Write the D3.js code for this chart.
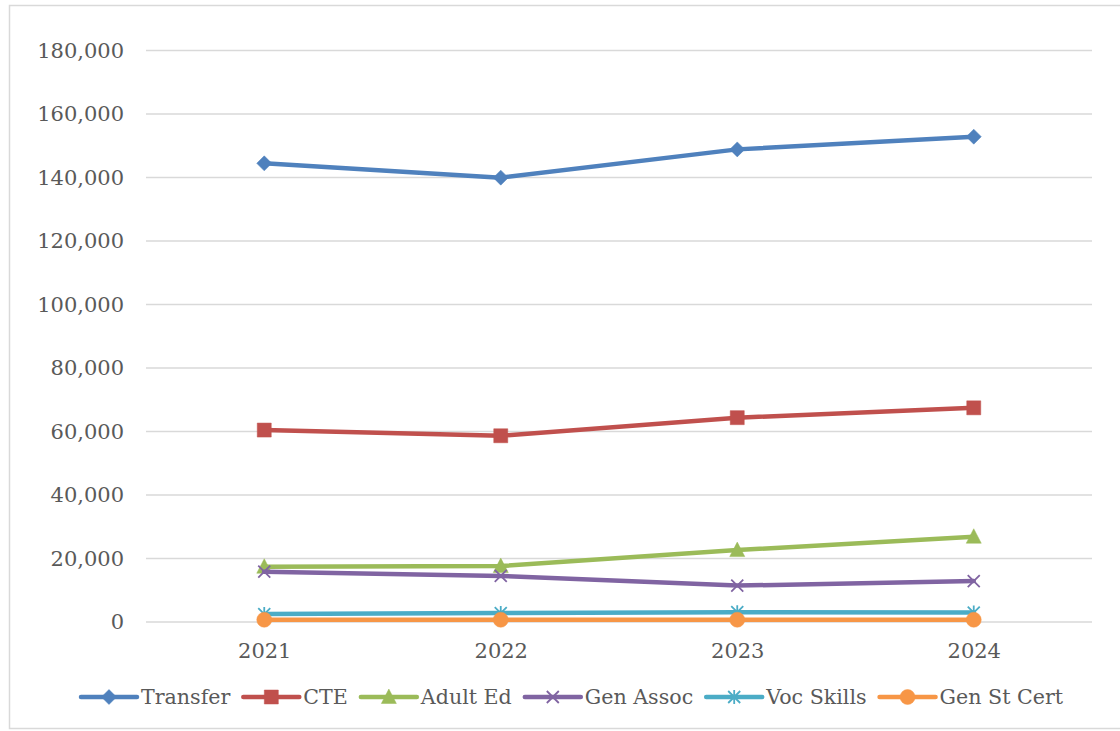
<!DOCTYPE html>
<html><head><meta charset="utf-8">
<script src="https://cdn.jsdelivr.net/npm/d3@7"></script>
<style>
html,body{margin:0;padding:0;background:#fff;}
svg{display:block;}
text{font-family:"DejaVu Serif",Georgia,serif;fill:#595959;}
</style></head>
<body>
<svg id="chart" width="1120" height="731"></svg>
<script>
const years = ["2021","2022","2023","2024"];
const seriesNames = ["Transfer","CTE","Adult Ed","Gen Assoc","Voc Skills","Gen St Cert"];
const transfer  = [144300, 139800, 148700, 152700];
const cte       = [60300, 58500, 64200, 67300];
const adultEd   = [17250, 17450, 22500, 26700];
const genAssoc  = [15700, 14350, 11300, 12750];
const vocSkills = [2350, 2650, 2950, 2800];
const genStCert = [550, 550, 550, 550];
const yTicks = [0,20000,40000,60000,80000,100000,120000,140000,160000,180000];

const colors = ["#4F81BD","#C0504D","#9BBB59","#8064A2","#4BACC6","#F79646"];
const markers = ["diamond","square","triangle","x","star","circle"];
const values = [transfer, cte, adultEd, genAssoc, vocSkills, genStCert];

const svg = d3.select("#chart");
// chart border
svg.append("rect").attr("x",9.5).attr("y",5.5).attr("width",1130).attr("height",723)
  .attr("fill","none").attr("stroke","#D9D9D9").attr("stroke-width",1.5);

const x = d3.scalePoint().domain(years).range([146,1092]).padding(0.5);
const y = d3.scaleLinear().domain([0,180000]).range([621.5,50]);

// gridlines
const yAxis = d3.axisLeft(y).tickValues(yTicks).tickSize(-(1092-146)).tickPadding(22)
  .tickFormat(d3.format(","));
const gy = svg.append("g").attr("transform","translate(146,0)").call(yAxis);
gy.select(".domain").remove();
gy.selectAll(".tick line").attr("stroke","#D9D9D9").attr("stroke-width",1.6);
gy.selectAll(".tick text").attr("font-size",21).attr("fill","#595959")
  .attr("font-family","DejaVu Serif").attr("dy","0.34em");

const xAxis = d3.axisBottom(x).tickSize(0).tickPadding(22);
const gx = svg.append("g").attr("transform","translate(0,621.5)").call(xAxis);
gx.select(".domain").remove();
gx.selectAll(".tick text").attr("font-size",21).attr("fill","#595959")
  .attr("font-family","DejaVu Serif");

function markerPath(type){
  switch(type){
    case "diamond": return "M0,-7.5L7.5,0L0,7.5L-7.5,0Z";
    case "square": return "M-7,-7H7V7H-7Z";
    case "triangle": return "M0,-8L7.5,6.5H-7.5Z";
    case "circle": return d3.symbol().type(d3.symbolCircle).size(Math.PI*7.5*7.5)();
    case "x": return "M-6,-6L6,6M6,-6L-6,6";
    case "star": return "M-6,-6L6,6M6,-6L-6,6M0,-7V7";
  }
}
function drawMarker(g, type, color){
  const p = g.append("path").attr("d", markerPath(type));
  if(type==="x"||type==="star"){
    p.attr("fill","none").attr("stroke",color).attr("stroke-width",1.8);
  } else {
    p.attr("fill",color).attr("stroke",color).attr("stroke-width",0.5);
  }
}

const line = d3.line().x((d,i)=>x(years[i])).y(d=>y(d));
values.forEach((vals,si)=>{
  const g = svg.append("g");
  g.append("path").datum(vals).attr("d",line).attr("fill","none")
    .attr("stroke",colors[si]).attr("stroke-width",4.5).attr("stroke-linejoin","round")
    .attr("stroke-linecap","round");
  vals.forEach((v,i)=>{
    const mg = g.append("g").attr("transform",`translate(${x(years[i])},${y(v)})`);
    drawMarker(mg, markers[si], colors[si]);
  });
});

// legend
const legend = svg.append("g");
const lineLen = 56, textGap = 4, itemGap = 13, legY = 697;
const items = [];
seriesNames.forEach((name,si)=>{
  const g = legend.append("g");
  g.append("line").attr("x1",0).attr("x2",lineLen).attr("y1",0).attr("y2",0)
    .attr("stroke",colors[si]).attr("stroke-width",4.5).attr("stroke-linecap","round");
  const mg = g.append("g").attr("transform",`translate(${lineLen/2},0)`);
  drawMarker(mg, markers[si], colors[si]);
  const t = g.append("text").attr("x",lineLen+textGap).attr("y",0).attr("dy","0.35em")
    .attr("font-size",20.6).text(name);
  const w = lineLen + textGap + t.node().getComputedTextLength();
  items.push({g, w});
});
const total = d3.sum(items, d=>d.w) + itemGap*(items.length-1);
let start = 572 - total/2;
items.forEach(it=>{
  it.g.attr("transform",`translate(${start},${legY})`);
  start += it.w + itemGap;
});
</script>
</body></html>
